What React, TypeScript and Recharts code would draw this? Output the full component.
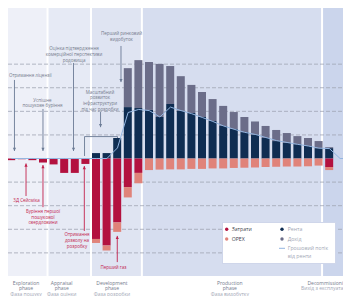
import {
  Bar,
  ComposedChart,
  Line,
  ReferenceArea,
  ReferenceDot,
  ReferenceLine,
  XAxis,
  YAxis,
} from 'recharts'

// one slot per period of the field's life, 0..32
const periods = [0, 1, 2, 3, 4, 5, 6, 7, 8, 9, 10, 11, 12, 13, 14, 15, 16, 17, 18, 19, 20, 21, 22, 23, 24, 25, 26, 27, 28, 29, 30, 31, 32]

const rent = [0, 0, 0, 0, 0, 0, 0, 0, 2.3, 2.3, 8.7, 21.8, 21.4, 20.6, 17.6, 23.1, 20.3, 19.3, 17.6, 15.9, 13.8, 12.5, 11.2, 10.2, 8.7, 7.4, 6.6, 6.1, 5.3, 4.4, 4.4, 0, 0]
const income = [0, 0, 0, 0, 0, 0, 0, 0, 0, 0, 0, 16.5, 20.3, 20.3, 22.5, 16.1, 14.6, 11.9, 10.6, 9.3, 8.5, 7.2, 6.4, 5.5, 5.1, 4.7, 4.2, 3.4, 3.4, 3.0, 0.4, 0, 0]
const costs = [-0.7, -0.3, -0.7, -1.7, -2.5, -6.1, -6.1, -2.3, -34.1, -36.9, -27.1, -12.1, -6.1, 0, 0, 0, 0, 0, 0, 0, 0, 0, 0, 0, 0, 0, 0, 0, 0, 0, -3.6, 0, 0]
const opex = [0, 0, 0, 0, 0, 0, 0, 0, -1.7, -2.1, -4.0, -4.4, -4.4, -4.9, -4.7, -4.6, -4.6, -4.4, -4.4, -4.2, -4.2, -4.0, -3.9, -3.8, -3.6, -3.5, -3.4, -3.4, -3.3, -3.0, -1.3, 0, 0]
const flow = [0, 0, 0, 0, 0, 0, 0, 0, 0, 0, 4.5, 19.5, 20.8, 20.3, 17.6, 21.8, 20.3, 19.0, 17.4, 15.7, 13.8, 12.4, 11.1, 10.2, 8.9, 7.6, 6.8, 6.0, 5.3, 4.4, 4.2, 0, 0]

const gridValues = [-40, -30, -20, -10, 10, 20, 30, 40]

const phaseBounds = [-0.33, 3.4, 7.5, 12.3, 29.3, 32.03]
const phaseNames = ['Exploration', 'Appraisal', 'Development', 'Production', 'Decommissioning']
const phaseSubtitles = ['Фаза пошуку', 'Фаза оцінки', 'Фаза розробки', 'Фаза видобутку', 'Вихід з експлуатації']
const phaseLabelAt = [1.37, 4.74, 9.48, 20.6, 31.84]

// milestones: text anchor (period, value) and arrow (period, from, to)
const topNotes = [
  { lines: ['Отримання ліцензії'], x: -0.24, y: 35.4, anchor: 'start' },
  { lines: ['Успішне', 'пошукове буріння'], x: 2.92, y: 25.0 },
  { lines: ['Оцінка підтвердження', 'комерційної перспективи', 'родовища'], x: 5.9, y: 46.8 },
  { lines: ['Перший ринковий', 'видобуток'], x: 10.38, y: 53.0 },
  { lines: ['Масштабний', 'розвиток', 'інфраструктури', 'під час розробки'], x: 8.35, y: 28.4 },
]
const topArrows = [
  { x: 0.28, from: 33.3, to: 3.2 },
  { x: 2.97, from: 21.0, to: 3.2 },
  { x: 5.85, from: 40.5, to: 3.2 },
  { x: 10.33, from: 47.7, to: 32.4 },
  { x: 8.4, from: 19.7, to: 13.3 },
]
const bottomNotes = [
  { lines: ['3Д Сейсміка'], x: 1.42, y: -17.6 },
  { lines: ['Буріння першої', 'пошукової', 'свердловини'], x: 2.97, y: -22.2 },
  { lines: ['Отримання', 'дозволу на', 'розробку'], x: 6.18, y: -32.2 },
  { lines: ['Перший газ'], x: 9.62, y: -46.0 },
]
const bottomArrows = [
  { x: 1.37, from: -15.9, to: -2.1 },
  { x: 2.97, from: -20.6, to: -2.75 },
  { x: 6.87, from: -30.7, to: -3.2 },
  { x: 9.98, from: -43.9, to: -32.8 },
]

const legendLeft = ['Затрати', 'OPEX']
const legendRight = ['Рента', 'Дохід', 'Грошовий потік', 'від ренти']

const FONT = "'Open Sans', 'Noto Sans', sans-serif"
const NAVY = '#0f2d52'
const SLATE = '#6b6d89'
const CRIMSON = '#b3113f'
const SALMON = '#e0837a'
const FLOW = '#93b5e0'
const GRAY_ARROW = '#6b7b95'
const GRAY_TEXT = '#737a8b'
const RED_TEXT = '#c2224d'
const phaseFills = ['#eef0f8', '#e6eaf5', '#dfe4f2', '#d6ddef', '#cbd5ec']

const data = periods.map((p, k) => ({
  period: p,
  rent: rent[k],
  income: income[k],
  costs: costs[k],
  opex: opex[k],
  flow: flow[k],
}))

function textShape(lines: string[], color: string, anchor = 'middle', size = 4.5, lh = 5.7, sub?: string) {
  return (p: any) => (
    <text
      x={p.cx}
      y={p.cy}
      textAnchor={anchor}
      dominantBaseline="central"
      fontFamily={FONT}
      fontSize={size}
      fill={color}
    >
      {lines.map((l, k) => (
        <tspan key={k} x={p.cx} dy={k === 0 ? 0 : lh} fill={sub && k === lines.length - 1 ? sub : color}>
          {l}
        </tspan>
      ))}
    </text>
  )
}

function headShape(dir: number, color: string) {
  return (p: any) => (
    <path
      d={`M${p.cx},${p.cy} L${p.cx - 1.6},${p.cy - dir * 3.2} L${p.cx + 1.6},${p.cy - dir * 3.2} Z`}
      fill={color}
    />
  )
}

function Legend() {
  return (
    <svg style={{ position: 'absolute', left: 214, top: 214 }} width={114} height={43}>
      <rect x={0.5} y={0.5} width={113} height={41} fill="#fff" stroke="#cfd6ea" />
      <g fontFamily={FONT} fontSize={5.2} dominantBaseline="central">
        <circle cx={4.7} cy={7.3} r={1.7} fill={CRIMSON} />
        <text x={9.7} y={7.3} fill="#3c3f4d">{legendLeft[0]}</text>
        <circle cx={4.7} cy={17} r={1.7} fill={SALMON} />
        <text x={9.7} y={17} fill="#3c3f4d">{legendLeft[1]}</text>
        <circle cx={60} cy={7.3} r={1.7} fill={NAVY} />
        <text x={65.7} y={7.3} fill="#a2a7b5">{legendRight[0]}</text>
        <circle cx={60} cy={17} r={1.7} fill={SLATE} />
        <text x={65.7} y={17} fill="#a2a7b5">{legendRight[1]}</text>
        <line x1={57} x2={63} y1={26.3} y2={26.3} stroke={FLOW} strokeWidth={1} />
        <text x={65.7} y={26.3} fill="#a2a7b5">{legendRight[2]}</text>
        <text x={65.7} y={34.2} fill="#a2a7b5">{legendRight[3]}</text>
      </g>
    </svg>
  )
}

export default function App() {
  return (
    <div style={{ position: 'relative', width: 343, height: 288 }}>
      <ComposedChart
        width={343}
        height={288}
        data={data}
        stackOffset="sign"
        barSize={8}
        margin={{ top: 0, right: 0, bottom: 20, left: 0 }}
      >
        <XAxis
          dataKey="period"
          type="number"
          domain={[phaseBounds[0], phaseBounds[5]]}
          allowDataOverflow
          hide
        />
        <YAxis domain={[-49.8, 63.8]} allowDataOverflow hide />

        {phaseNames.map((name, k) => (
          <ReferenceArea
            key={name}
            x1={phaseBounds[k]}
            x2={phaseBounds[k + 1]}
            fill={phaseFills[k]}
            fillOpacity={1}
            stroke="none"
            zIndex={-300}
          />
        ))}
        {phaseBounds.slice(1, 5).map((b) => (
          <ReferenceLine key={b} x={b} stroke="#ffffff" strokeWidth={2} zIndex={-250} />
        ))}
        {gridValues.map((v) => (
          <ReferenceLine
            key={v}
            y={v}
            stroke="#a0a5b2"
            strokeDasharray="4 2"
            strokeWidth={0.8}
            zIndex={-200}
          />
        ))}

        <Bar dataKey="rent" stackId="s" fill={NAVY} isAnimationActive={false} />
        <Bar dataKey="income" stackId="s" fill={SLATE} isAnimationActive={false} />
        <Bar dataKey="costs" stackId="s" fill={CRIMSON} isAnimationActive={false} />
        <Bar dataKey="opex" stackId="s" fill={SALMON} isAnimationActive={false} />
        <Line
          dataKey="flow"
          type="linear"
          stroke={FLOW}
          strokeWidth={1}
          dot={false}
          isAnimationActive={false}
        />

        {topArrows.map((a, k) => (
          <ReferenceLine
            key={`ta${k}`}
            segment={[{ x: a.x, y: a.from }, { x: a.x, y: a.to }]}
            stroke={GRAY_ARROW}
            strokeWidth={0.9}
            ifOverflow="visible"
          />
        ))}
        {topArrows.map((a, k) => (
          <ReferenceDot key={`th${k}`} x={a.x} y={a.to} ifOverflow="visible" shape={headShape(1, GRAY_ARROW)} />
        ))}
        <ReferenceLine
          segment={[{ x: 6.89, y: 9.3 }, { x: 10.0, y: 9.3 }]}
          stroke={GRAY_ARROW}
          strokeWidth={0.9}
        />
        <ReferenceLine
          segment={[{ x: 6.89, y: 9.3 }, { x: 6.89, y: 1.06 }]}
          stroke={GRAY_ARROW}
          strokeWidth={0.9}
        />
        <ReferenceLine
          segment={[{ x: 10.0, y: 9.3 }, { x: 10.0, y: 8.7 }]}
          stroke={GRAY_ARROW}
          strokeWidth={0.9}
        />
        {topNotes.map((n, k) => (
          <ReferenceDot
            key={`tn${k}`}
            x={n.x}
            y={n.y}
            ifOverflow="visible"
            shape={textShape(n.lines, GRAY_TEXT, n.anchor || 'middle')}
          />
        ))}

        {bottomArrows.map((a, k) => (
          <ReferenceLine
            key={`ba${k}`}
            segment={[{ x: a.x, y: a.from }, { x: a.x, y: a.to }]}
            stroke={RED_TEXT}
            strokeWidth={0.9}
            ifOverflow="visible"
          />
        ))}
        {bottomArrows.map((a, k) => (
          <ReferenceDot key={`bh${k}`} x={a.x} y={a.to} ifOverflow="visible" shape={headShape(-1, RED_TEXT)} />
        ))}
        {bottomNotes.map((n, k) => (
          <ReferenceDot
            key={`bn${k}`}
            x={n.x}
            y={n.y}
            ifOverflow="visible"
            shape={textShape(n.lines, RED_TEXT)}
          />
        ))}

        {phaseNames.map((name, k) => (
          <ReferenceDot
            key={`pl${k}`}
            x={phaseLabelAt[k]}
            y={-52.75}
            ifOverflow="visible"
            shape={textShape(
              k === 4 ? [name, phaseSubtitles[k]] : [name, 'phase', phaseSubtitles[k]],
              GRAY_TEXT,
              k === 4 ? 'end' : 'middle',
              5,
              5.3,
              '#a3a8b6',
            )}
          />
        ))}
      </ComposedChart>
      <Legend />
    </div>
  )
}
